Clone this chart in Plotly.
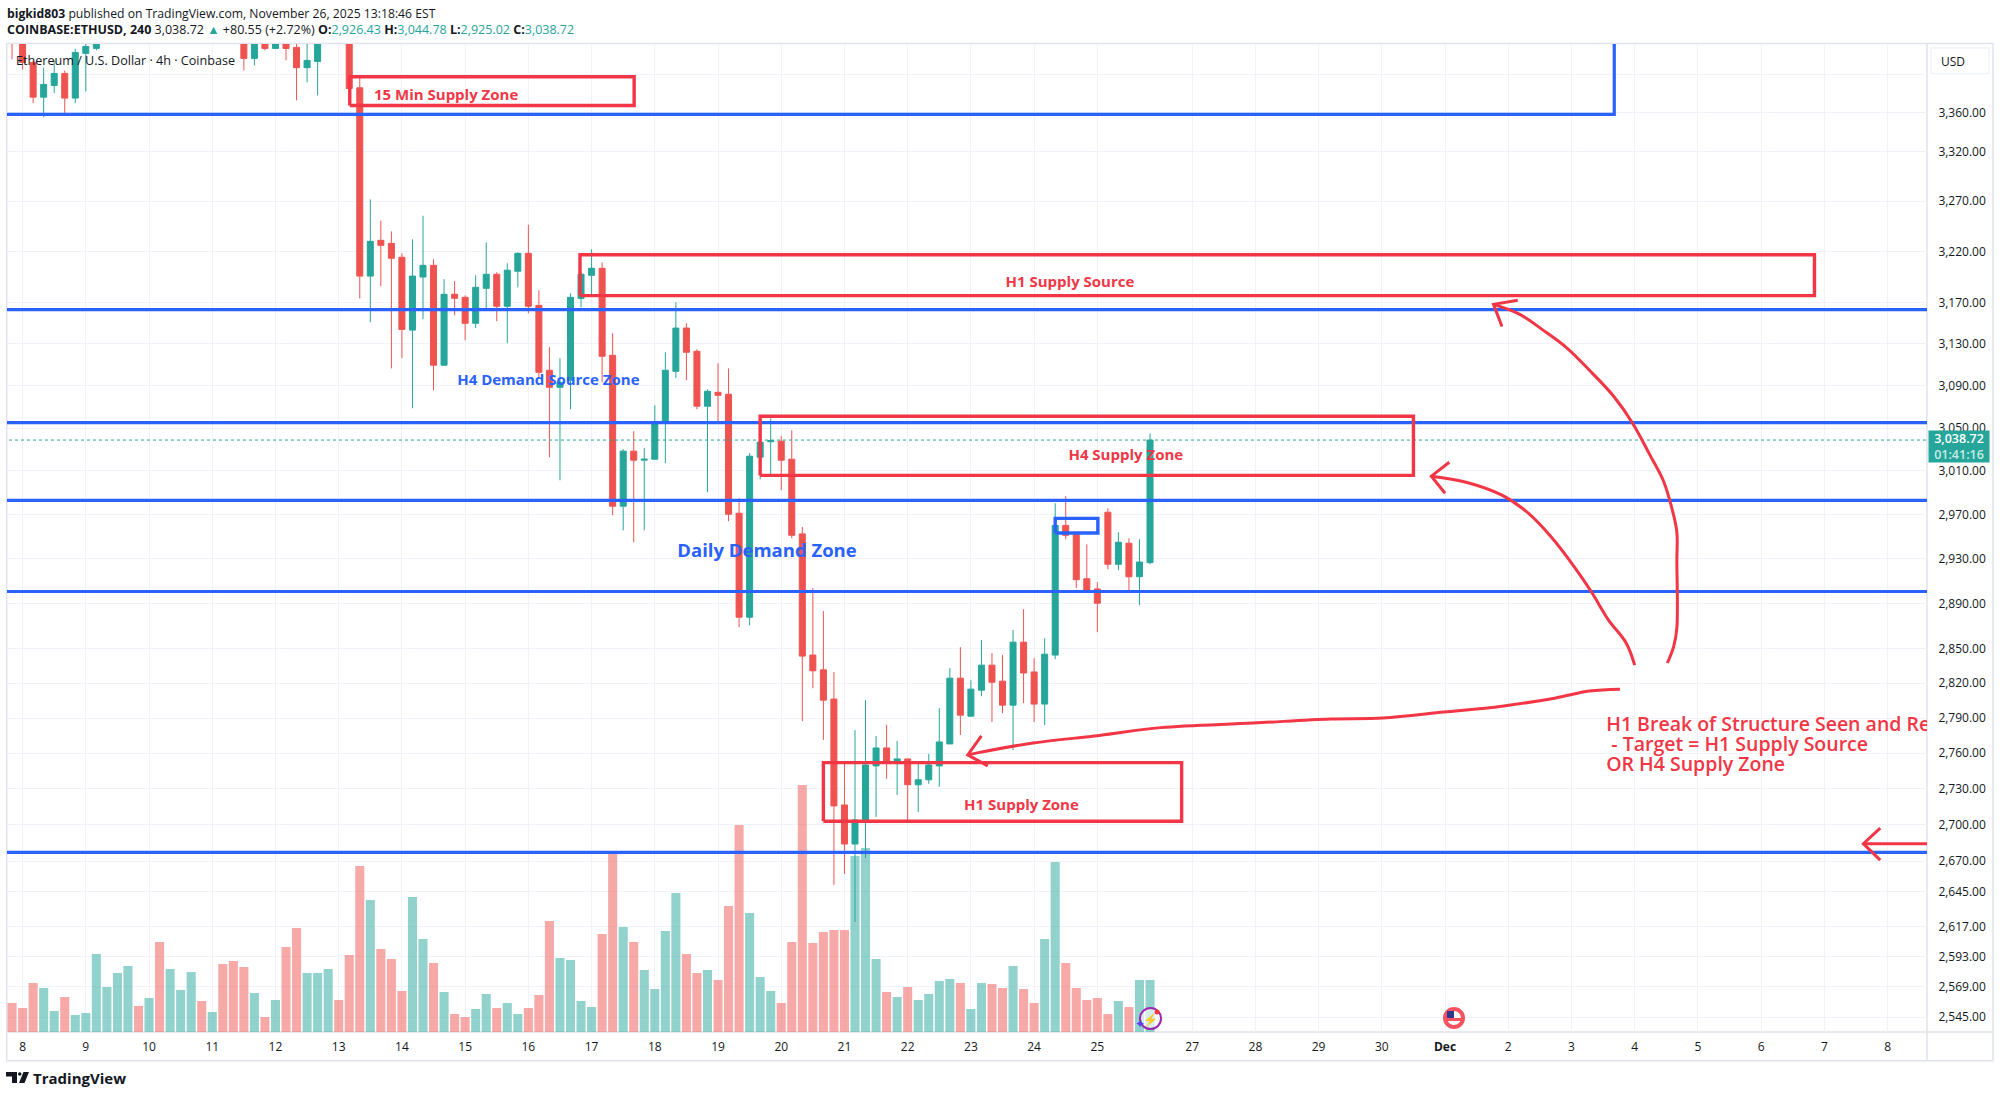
import plotly.graph_objects as go

# ETHUSD 4h candles. Bars run from index -1, bars above the
# visible price range (index 8-20 and 29-30) are rough estimates.
first_bar = -1
opens = [3480, 3445, 3412.5, 3376.3, 3388.4, 3401, 3375.3, 3422, 3427.2,
         3440, 3462, 3490, 3525, 3505, 3535, 3490, 3540, 3565, 3590, 3560, 3575, 3530,
         3485, 3416.7, 3445, 3427.2, 3440, 3428.3, 3407, 3413.5, 3440, 3480, 3455, 3386,
         3195.7, 3231.0, 3228.0, 3214.2, 3143.1, 3194.8, 3206.3, 3109.4, 3177.9, 3174.9, 3149.7,
         3183.7, 3197.5, 3166.2, 3200.5, 3218.1, 3167.1, 3104.6, 3088.4, 3095.0, 3173.9,
         3196.5, 3203.4, 3118.9, 2977.6, 3028.4, 3020.0, 3020.9, 3054.5, 3103.6, 3145.1,
         3122.7, 3070.5, 3083.6, 3081.8, 2971.2, 2877.8, 3022.8, 3037.2, 3037.7, 3020.9,
         2952.4, 2844.5, 2831.6, 2806.3, 2716.5, 2684.1, 2704.0, 2749.3, 2764.5, 2751.8,
         2755.2, 2733.4, 2737.6, 2749.3, 2767.9, 2824.4, 2791.6, 2814.0, 2835.7, 2821.8,
         2801.1, 2855.8, 2829.8, 2802.0, 2844.5, 2960.1, 2952.0, 2912.0, 2902.9, 2972.1,
         2925.0, 2943.9, 2913.8, 2926.43]
highs = [3495, 3450, 3414.6, 3407, 3414.6, 3404.1, 3426.9, 3436, 3446,
         3470, 3500, 3535, 3540, 3550, 3565, 3550, 3580, 3610, 3600, 3590, 3585, 3540,
         3495, 3452, 3450, 3445, 3445, 3440, 3440, 3450, 3490, 3490, 3465, 3396.7,
         3271.8, 3250.6, 3239.9, 3218.1, 3232.0, 3255.5, 3212.3, 3192.6, 3190.7, 3176.9, 3196.5,
         3229.0, 3199.5, 3208.3, 3219.1, 3246.5, 3181.8, 3126.6, 3116.1, 3178.8, 3199.5,
         3222.1, 3209.3, 3140.1, 3030.2, 3047.0, 3031.2, 3071.4, 3121.8, 3170.1, 3149.7,
         3124.7, 3086.5, 3111.3, 3106.4, 2984.9, 3026.5, 3037.7, 3059.1, 3042.4, 3047.9,
         2958.6, 2903.6, 2883.2, 2829.8, 2751.8, 2779.7, 2805.4, 2774.7, 2784.1, 2770.4,
         2755.2, 2750.9, 2759.4, 2798.5, 2833.1, 2851.4, 2822.6, 2857.6, 2846.2, 2844.4,
         2866.5, 2884.9, 2841.8, 2859.3, 2980.4, 2986.8, 2952.0, 2942.9, 2909.0, 2975.7,
         2953.8, 2948.4, 2947.5, 3044.78]
lows = [3415.6, 3405, 3370.1, 3355.4, 3380.5, 3358.4, 3370.1, 3382.3, 3425.1,
        3436, 3455, 3482, 3495, 3498, 3480, 3475, 3530, 3555, 3545, 3550, 3520, 3470,
        3404.1, 3409.4, 3425.1, 3427.2, 3414.6, 3372.9, 3391.6, 3378.1, 3435, 3445, 3385.3, 3173.9,
        3150.7, 3185.8, 3106.4, 3116.1, 3068.6, 3153.6, 3085.5, 3109.4, 3157.5, 3133.3, 3145.1,
        3163.2, 3151.7, 3130.4, 3184.7, 3159.4, 3098.2, 3022.8, 3001.4, 3067.6, 3165.2,
        3176.9, 3093.1, 2969.4, 2955.6, 2944.8, 2955.6, 3020.9, 3017.2, 3097.1, 3095.0,
        3067.6, 2990.4, 3055.4, 2963.9, 2869.0, 2870.7, 3002.3, 3006.9, 2992.2, 2948.4,
        2787.4, 2815.7, 2771.3, 2650.6, 2659.5, 2620.6, 2672.6, 2706.5, 2738.4, 2724.9,
        2704.0, 2710.7, 2734.2, 2731.7, 2767.9, 2775.5, 2791.6, 2808.8, 2786.6, 2794.2,
        2762.8, 2802.8, 2786.6, 2784.0, 2840.9, 2947.5, 2903.6, 2901.1, 2864.6, 2920.5,
        2919.6, 2901.8, 2888.5, 2925.02]
closes = [3445, 3412.5, 3376.3, 3389.5, 3401, 3375.3, 3423, 3429.3, 3440,
          3462, 3490, 3525, 3505, 3535, 3490, 3540, 3565, 3590, 3560, 3575, 3530, 3485,
          3416.7, 3445, 3427.2, 3440, 3427.2, 3407, 3414.6, 3440, 3480, 3455, 3385.3, 3195.7,
          3230.0, 3226.1, 3213.3, 3143.8, 3195.7, 3206.3, 3109.4, 3177.9, 3174.0, 3149.7, 3184.7,
          3197.5, 3166.2, 3201.5, 3218.1, 3166.2, 3102.7, 3088.4, 3093.1, 3174.9, 3197.5,
          3203.4, 3118.0, 2977.6, 3028.4, 3020.0, 3020.9, 3054.5, 3104.6, 3145.1, 3121.8,
          3070.5, 3084.6, 3080.8, 2970.3, 2877.8, 3023.7, 3036.7, 3038.2, 3020.0, 2951.1,
          2843.6, 2830.8, 2805.4, 2715.7, 2684.1, 2704.0, 2750.1, 2764.5, 2751.8, 2755.2,
          2733.4, 2737.6, 2750.1, 2769.6, 2824.4, 2792.5, 2814.9, 2835.7, 2820.9, 2801.1,
          2855.8, 2828.9, 2802.0, 2845.3, 2960.1, 2951.1, 2911.1, 2901.1, 2890.2, 2925.0,
          2944.8, 2913.8, 2927.0, 3038.72]
# volume has no scale on the chart, so these are relative heights
volumes = [29, 24, 49, 44, 21, 35, 17, 19, 78, 45, 59, 66, 26, 34, 90, 63, 42, 60, 31, 20,
           68, 71, 65, 39, 15, 32, 85, 104, 59, 59, 63, 32, 77, 166, 132, 83, 73, 41, 135, 93,
           69, 40, 18, 15, 23, 38, 24, 29, 18, 24, 37, 111, 74, 72, 31, 25, 98, 179, 105, 90,
           62, 43, 101, 139, 78, 59, 62, 52, 126, 207, 119, 55, 41, 29, 90, 247, 89, 100, 102, 102,
           176, 184, 73, 40, 35, 45, 32, 38, 51, 53, 49, 23, 49, 48, 44, 66, 43, 29, 93, 170,
           69, 44, 32, 34, 18, 31, 25, 52, 52]
bars = list(range(first_bar, first_bar + len(opens)))

price_ticks = [3400, 3360, 3320, 3270, 3220, 3170, 3130, 3090, 3050, 3010, 2970, 2930, 2890,
               2850, 2820, 2790, 2760, 2730, 2700, 2670, 2645, 2617, 2593, 2569, 2545]
price_labels = [""] + [f"{p:,.2f}" for p in price_ticks[1:]]
time_ticks = [0, 6, 12, 18, 24, 30, 36, 42, 48, 54, 60, 66, 72, 78, 84, 90, 96, 102,
              111, 117, 123, 129, 135, 141, 147, 153, 159, 165, 171, 177]
time_labels = ["8", "9", "10", "11", "12", "13", "14", "15", "16", "17", "18", "19", "20", "21",
               "22", "23", "24", "25", "27", "28", "29", "30", "<b>Dec</b>", "2", "3", "4", "5",
               "6", "7", "8"]

level_prices = [3162.9, 3055, 2983, 2900.6, 2677.3]
top_level_price = 3358.4
top_level_end = 151.06
last_price = 3038.72

zone_x0 = [31.05, 52.9, 70, 76, 98]
zone_x1 = [58.04, 170.06, 132, 110, 102.05]
zone_low = [3367.7, 3176.6, 3005.9, 2703, 2953.2]
zone_high = [3397.5, 3216.7, 3061, 2752.1, 2966.5]
zone_colors = ["#f23645", "#f23645", "#f23645", "#f23645", "#2962ff"]

label_text = ["15 Min Supply Zone", "H1 Supply Source", "H4 Demand Source Zone", "H4 Supply Zone",
              "Daily Demand Zone", "H1 Supply Zone"]
label_x = [40.2, 99.4, 49.9, 104.7, 70.65, 94.8]
label_y = [3377, 3188.6, 3094, 3023.7, 2936, 2715.5]
label_colors = ["#f23645", "#f23645", "#2962ff", "#f23645", "#2962ff", "#f23645"]
label_sizes = [15, 15, 15, 15, 18.5, 15]

note_lines = ["H1 Break of Structure Seen and Retest", "\u00a0- Target = H1 Supply Source", "OR H4 Supply Zone"]
note_x = 150.3
note_y = [2783.4, 2766, 2749.5]

# freehand arrows: a shaft plus its two-stroke head
shaft_a_x = [139.6, 142.1, 144.3, 146.6, 148.7, 151, 152.8, 154.4, 155.7, 156.5, 157, 157, 157, 156.7, 156.1]
shaft_a_y = [3168.1, 3158.4, 3143.1, 3125.6, 3104.6, 3079.9, 3054.5, 3025.6, 3001.4, 2976.7, 2953.9, 2928.6, 2868.2, 2852.2, 2837.6]
head_a_x = [141.9, 139.6, 140.4]
head_a_y = [3172, 3168.1, 3146.6]
shaft_b_x = [133.7, 137, 140.4, 142.9, 145.1, 147.3, 148.9, 150.5, 152.2, 153]
shaft_b_y = [3005.2, 2999.6, 2987.7, 2971.2, 2949.3, 2922.2, 2900.1, 2875.5, 2854.9, 2835.7]
head_b_x = [135.4, 133.7, 135]
head_b_y = [3018.1, 3005.2, 2989.5]
shaft_c_x = [151.6, 148.7, 145.4, 140.4, 134.9, 129.1, 124.1, 116.8, 108, 102.2, 95.9, 90.6, 89.7]
shaft_c_y = [2814.9, 2813.2, 2807.1, 2800.2, 2795.1, 2790, 2789.2, 2785.7, 2781.8, 2775.1, 2768.7, 2760.3, 2758.6]
head_c_x = [91, 89.7, 91.6]
head_c_y = [2774.7, 2758.6, 2749.3]
shaft_d_x = [181, 174.7]
shaft_d_y = [2684.4, 2684.4]
head_d_x = [176.3, 174.7, 176.3]
head_d_y = [2697.3, 2684.4, 2670.9]

GREEN = "#26a69a"
RED = "#ef5350"
DARK = "#131722"
GRID = "#f0f3fa"
BORDER = "#e0e3eb"
FONT = "Open Sans"


# chart furniture outside the data is placed in screen pixels
def px(x):
    return (x - 7) / 1920


def py(y):
    return (1032 - y) / 988


vol_colors = [GREEN if c >= o else RED for o, c in zip(opens, closes)]

fig = go.Figure()
fig.add_trace(go.Bar(x=bars, y=volumes, marker=dict(color=vol_colors, opacity=0.5, line_width=0),
                     yaxis="y", hoverinfo="skip"))
fig.add_trace(go.Candlestick(x=bars, open=opens, high=highs, low=lows, close=closes, yaxis="y2",
                             whiskerwidth=0, hoverinfo="skip",
                             increasing=dict(line=dict(color=GREEN, width=1), fillcolor=GREEN),
                             decreasing=dict(line=dict(color=RED, width=1), fillcolor=RED)))


def add_line(xs, ys, color, width, dash="solid", shape="linear"):
    fig.add_trace(go.Scatter(x=xs, y=ys, yaxis="y2", mode="lines", hoverinfo="skip",
                             line=dict(color=color, width=width, dash=dash, shape=shape)))


add_line([-3, 185], [last_price, last_price], GREEN, 1, "dot")
for level in level_prices:
    add_line([-3, 185], [level, level], "#2962ff", 3.2)
add_line([-3, top_level_end, top_level_end], [top_level_price, top_level_price, 3500], "#2962ff", 3.2)

for x0, x1, lo, hi, col in zip(zone_x0, zone_x1, zone_low, zone_high, zone_colors):
    add_line([x0, x1, x1, x0, x0], [lo, lo, hi, hi, lo], col, 3.4)

for sx, sy in [(shaft_a_x, shaft_a_y), (shaft_b_x, shaft_b_y), (shaft_c_x, shaft_c_y), (shaft_d_x, shaft_d_y)]:
    add_line(sx, sy, "#f23645", 3, shape="spline")
for hx, hy in [(head_a_x, head_a_y), (head_b_x, head_b_y), (head_c_x, head_c_y), (head_d_x, head_d_y)]:
    add_line(hx, hy, "#f23645", 3)

fig.add_trace(go.Scatter(x=label_x, y=label_y, yaxis="y2", mode="text", text=label_text, hoverinfo="skip",
                         textposition="middle center",
                         textfont=dict(family=FONT, size=label_sizes, color=label_colors, weight=700)))
fig.add_trace(go.Scatter(x=[note_x] * 3, y=note_y, yaxis="y2", mode="text", text=note_lines, hoverinfo="skip",
                         textposition="middle right", cliponaxis=True,
                         textfont=dict(family=FONT, size=19.5, color="#f23645", weight=600)))

shapes = [
    # outer frame and the price/time scale dividers
    dict(type="rect", xref="paper", yref="paper", x0=px(6.7), x1=px(1993), y0=py(1060.7), y1=py(43.6),
         line=dict(color=BORDER, width=1.5), layer="below"),
    dict(type="line", xref="paper", yref="paper", x0=px(1927), x1=px(1927), y0=py(1060.7), y1=py(43.6),
         line=dict(color=BORDER, width=1.5), layer="below"),
    dict(type="line", xref="paper", yref="paper", x0=px(6.7), x1=px(1993), y0=py(1032), y1=py(1032),
         line=dict(color=BORDER, width=1.5), layer="below"),
    # USD button
    dict(type="rect", xref="paper", yref="paper", x0=px(1931), x1=px(1989), y0=py(73.6), y1=py(48),
         fillcolor="#ffffff", line=dict(color=GRID, width=1.5)),
    # TradingView mark
    dict(type="path", xref="paper", yref="paper", fillcolor=DARK, line_width=0,
         path=f"M {px(6)} {py(1072)} L {px(17)} {py(1072)} L {px(17)} {py(1083)} L {px(12)} {py(1083)} "
              f"L {px(12)} {py(1076.5)} L {px(6)} {py(1076.5)} Z"),
    dict(type="circle", xref="paper", yref="paper", fillcolor=DARK, line_width=0,
         x0=px(18), x1=px(21.5), y0=py(1075.7), y1=py(1072.2)),
    dict(type="path", xref="paper", yref="paper", fillcolor=DARK, line_width=0,
         path=f"M {px(23.5)} {py(1072)} L {px(29)} {py(1072)} L {px(24.5)} {py(1083)} L {px(19)} {py(1083)} Z"),
    # news flag and the purple bolt marker on the time scale
    dict(type="circle", xref="paper", yref="paper", fillcolor="#ffffff", line=dict(color="#f7525f", width=4),
         x0=px(1445), x1=px(1463), y0=py(1027), y1=py(1009)),
    dict(type="rect", xref="paper", yref="paper", fillcolor="#f7525f", line_width=0,
         x0=px(1447), x1=px(1461), y0=py(1021), y1=py(1018)),
    dict(type="rect", xref="paper", yref="paper", fillcolor="#2f3a8f", line_width=0,
         x0=px(1447), x1=px(1454), y0=py(1018), y1=py(1011)),
    dict(type="circle", xref="paper", yref="paper", fillcolor="rgba(255,255,255,0.6)", line=dict(color="#9c27b0", width=2),
         x0=px(1140), x1=px(1161), y0=py(1029), y1=py(1008)),
    dict(type="circle", xref="paper", yref="paper", fillcolor="#f23645", line_width=0,
         x0=px(1154.5), x1=px(1159.5), y0=py(1014.5), y1=py(1009.5)),
]

num = f'<span style="color:{GREEN}">'
header1 = "<b>bigkid803</b> published on TradingView.com, November 26, 2025 13:18:46 EST"
header2 = (f"<b>COINBASE:ETHUSD, 240</b> 3,038.72 <span style=\"color:{GREEN}\">\u25b2</span> +80.55 (+2.72%) "
           f"<b>O:</b>{num}2,926.43</span> <b>H:</b>{num}3,044.78</span> "
           f"<b>L:</b>{num}2,925.02</span> <b>C:</b>{num}3,038.72</span>")


def text(x, y, s, size=12.5, color=DARK, xanchor="left", weight=400, **kw):
    return dict(xref="paper", yref="paper", x=px(x), y=py(y), text=s, showarrow=False, xanchor=xanchor,
                yanchor="middle", font=dict(family=FONT, size=size, color=color, weight=weight), **kw)


annotations = [
    text(5, 13, header1, size=12.2),
    text(5, 30, header2),
    text(14, 61, "Ethereum / U.S. Dollar \u00b7 4h \u00b7 Coinbase", size=12.6, weight=500),
    text(31, 1078, "<b>TradingView</b>", size=15),
    dict(xref="paper", yref="paper", x=px(1928), y=py(446.5), xanchor="left", yanchor="middle", showarrow=False,
         width=60, height=31, bgcolor=GREEN, borderpad=0, align="center",
         text='<span style="color:#ffffff">3,038.72</span><br><span style="color:#c8ebe7">01:41:16</span>',
         font=dict(family=FONT, size=12.5, weight=600)),
    text(1939, 61.5, "USD", size=12),
    text(1150.5, 1019, "\u26a1", size=12, color="#7e3ff2", xanchor="center"),
    text(1140, 1023, "\u2726", size=12, color="#5b3ff2", xanchor="center"),
]

fig.update_layout(
    width=2000, height=1097, autosize=False,
    margin=dict(l=7, r=73, t=44, b=65, pad=0),
    paper_bgcolor="#ffffff", plot_bgcolor="#ffffff",
    showlegend=False, bargap=0.14, boxgap=0.43, boxgroupgap=0,
    shapes=shapes, annotations=annotations,
    font=dict(family=FONT, color=DARK),
    xaxis=dict(range=[-1.48, 180.74], tickmode="array", tickvals=time_ticks, ticktext=time_labels,
               showgrid=True, gridcolor=GRID, gridwidth=1, zeroline=False, showline=False,
               rangeslider=dict(visible=False), ticks="outside", ticklen=4, tickcolor="#ffffff",
               tickfont=dict(family=FONT, size=12, color=DARK), tickangle=0),
    yaxis=dict(range=[0, 988], visible=False, showgrid=False, zeroline=False),
    yaxis2=dict(type="log", overlaying="y", side="right", range=[3.40372, 3.53553],
                tickmode="array", tickvals=price_ticks, ticktext=price_labels,
                showgrid=True, gridcolor=GRID, gridwidth=1, zeroline=False, showline=False,
                ticks="outside", ticklen=8, tickcolor="#ffffff",
                tickfont=dict(family=FONT, size=12, color=DARK)),
)

fig.write_html("out.html", config={"displayModeBar": False}, post_script="document.body.style.margin='0';")
